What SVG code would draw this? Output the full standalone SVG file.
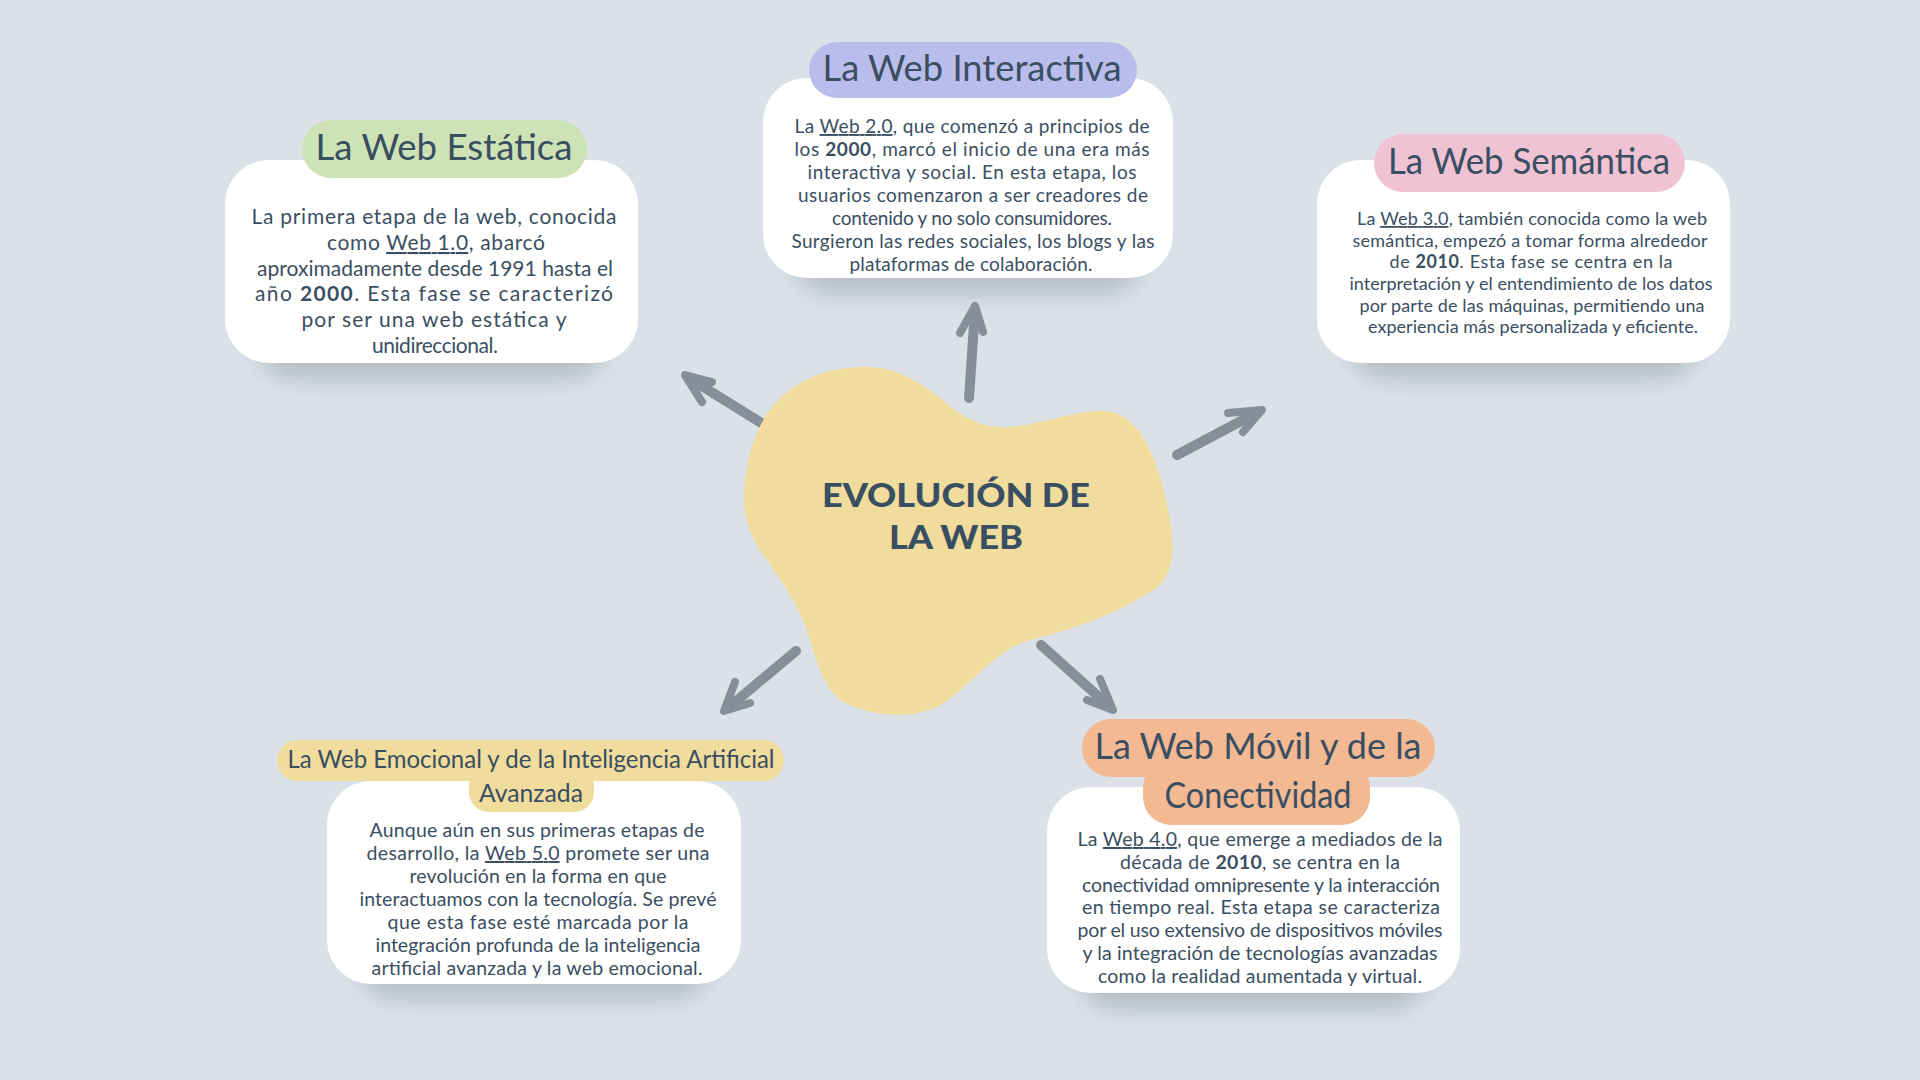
<svg xmlns="http://www.w3.org/2000/svg" width="1920" height="1080" viewBox="0 0 1920 1080">
<defs>
<style>
.bg{fill:#dce1e8}
.card{fill:#ffffff}
.shadow{fill:#9aa3ad;opacity:0.55}
.t{font-family:Lato,"Open Sans","Liberation Sans",sans-serif;fill:#3a4e62;text-anchor:middle}
.title{font-size:37px}
.b1{font-size:21px}
.b2{font-size:19px}
.b3{font-size:18px}
.b4{font-size:19.5px}
.u{text-decoration:underline}
.bold{font-weight:700}
.arrow{fill:none;stroke:#848f99;stroke-linecap:round;stroke-linejoin:round}
.shaft{stroke-width:10}
.head{stroke-width:8}
.center{font-family:Lato,"Open Sans","Liberation Sans",sans-serif;font-weight:900;font-size:33px;fill:#3a4e62;text-anchor:middle}
</style>
<filter id="blur" x="-20%" y="-30%" width="140%" height="170%">
<feGaussianBlur stdDeviation="11"/>
</filter>
</defs>
<rect class="bg" x="0" y="0" width="1920" height="1080"/>

<g id="connectors">
<path class="arrow shaft" d="M969,398 L975,310"/>
<path class="arrow head" d="M960,333 L975,306 L983,332"/>
<path class="arrow shaft" d="M763,424 L689,378"/>
<path class="arrow head" d="M712,382 L685,375 L702,402"/>
<path class="arrow shaft" d="M1177,455 L1258,412"/>
<path class="arrow head" d="M1228,413 L1262,410 L1243,432"/>
<path class="arrow shaft" d="M796,651 L728,708"/>
<path class="arrow head" d="M735,682 L724,711 L750,703"/>
<path class="arrow shaft" d="M1041,645 L1109,706"/>
<path class="arrow head" d="M1100,679 L1113,710 L1087,700"/>
</g>

<g id="center-node">
<path fill="#f0dc9c" d="M744,500 C744,455 760,410 790,390 C815,372 840,367 866,367 C900,367 925,385 955,410 C975,425 995,430 1020,426 C1050,421 1080,410 1105,411 C1140,413 1160,460 1170,520 C1176,555 1172,580 1150,592 C1110,617 1070,630 1030,640 C990,652 970,690 935,708 C915,717 880,718 850,705 C825,695 818,665 810,640 C800,605 780,580 760,550 C748,530 744,515 744,500 Z"/>
<text class="center" x="956" y="507" textLength="268" lengthAdjust="spacingAndGlyphs">EVOLUCIÓN DE</text>
<text class="center" x="956" y="549" textLength="134" lengthAdjust="spacingAndGlyphs">LA WEB</text>
</g>

<g id="node-estatica">
<rect class="shadow" x="255" y="185" width="353" height="195" rx="40" filter="url(#blur)"/>
<rect class="card" x="225" y="160" width="413" height="203" rx="44"/>
<rect fill="#cde3b5" x="302" y="120" width="285" height="58" rx="29"/>
<text class="t title" x="444" y="160" textLength="257" lengthAdjust="spacingAndGlyphs">La Web Estática</text>
<text class="t b1" x="434" y="224" textLength="365" lengthAdjust="spacing">La primera etapa de la web, conocida</text>
<text class="t b1" x="436" y="250" textLength="218" lengthAdjust="spacing">como <tspan class="u">Web 1.0</tspan>, abarcó</text>
<text class="t b1" x="435" y="276" textLength="356" lengthAdjust="spacing">aproximadamente desde 1991 hasta el</text>
<text class="t b1" x="434" y="301" textLength="358" lengthAdjust="spacing">año <tspan class="bold">2000</tspan>. Esta fase se caracterizó</text>
<text class="t b1" x="434" y="327" textLength="265" lengthAdjust="spacing">por ser una web estática y</text>
<text class="t b1" x="435" y="353" textLength="126" lengthAdjust="spacing">unidireccional.</text>
</g>

<g id="node-interactiva">
<rect class="shadow" x="793" y="100" width="350" height="195" rx="40" filter="url(#blur)"/>
<rect class="card" x="763" y="78" width="410" height="200" rx="44"/>
<rect fill="#b9bdec" x="809" y="42" width="328" height="56" rx="28"/>
<text class="t title" x="972" y="81" textLength="299" lengthAdjust="spacingAndGlyphs">La Web Interactiva</text>
<text class="t b2" x="972" y="133" textLength="355" lengthAdjust="spacing">La <tspan class="u">Web 2.0</tspan>, que comenzó a principios de</text>
<text class="t b2" x="972" y="156" textLength="355" lengthAdjust="spacing">los <tspan class="bold">2000</tspan>, marcó el inicio de una era más</text>
<text class="t b2" x="972" y="179" textLength="329" lengthAdjust="spacing">interactiva y social. En esta etapa, los</text>
<text class="t b2" x="973" y="202" textLength="350" lengthAdjust="spacing">usuarios comenzaron a ser creadores de</text>
<text class="t b2" x="972" y="225" textLength="280" lengthAdjust="spacing">contenido y no solo consumidores.</text>
<text class="t b2" x="973" y="248" textLength="363" lengthAdjust="spacing">Surgieron las redes sociales, los blogs y las</text>
<text class="t b2" x="971" y="271" textLength="243" lengthAdjust="spacing">plataformas de colaboración.</text>
</g>

<g id="node-semantica">
<rect class="shadow" x="1347" y="185" width="353" height="195" rx="40" filter="url(#blur)"/>
<rect class="card" x="1317" y="160" width="413" height="203" rx="44"/>
<rect fill="#efc3d3" x="1374" y="134" width="311" height="58" rx="29"/>
<text class="t title" x="1529" y="174" textLength="282" lengthAdjust="spacingAndGlyphs">La Web Semántica</text>
<text class="t b3" x="1532" y="225" textLength="350" lengthAdjust="spacing">La <tspan class="u">Web 3.0</tspan>, también conocida como la web</text>
<text class="t b3" x="1530" y="247" textLength="355" lengthAdjust="spacing">semántica, empezó a tomar forma alrededor</text>
<text class="t b3" x="1531" y="268" textLength="283" lengthAdjust="spacing">de <tspan class="bold">2010</tspan>. Esta fase se centra en la</text>
<text class="t b3" x="1531" y="290" textLength="363" lengthAdjust="spacing">interpretación y el entendimiento de los datos</text>
<text class="t b3" x="1532" y="312" textLength="345" lengthAdjust="spacing">por parte de las máquinas, permitiendo una</text>
<text class="t b3" x="1533" y="333" textLength="330" lengthAdjust="spacing">experiencia más personalizada y eficiente.</text>
</g>

<g id="node-emocional">
<rect class="shadow" x="357" y="805" width="354" height="195" rx="40" filter="url(#blur)"/>
<rect class="card" x="327" y="781" width="414" height="203" rx="44"/>
<rect fill="#f0dc9c" x="277" y="740" width="507" height="41" rx="20.5"/>
<rect fill="#f0dc9c" x="469" y="765" width="125" height="47" rx="20"/>
<text class="t" style="font-size:24.5px" x="531" y="768" textLength="487" lengthAdjust="spacingAndGlyphs">La Web Emocional y de la Inteligencia Artificial</text>
<text class="t" style="font-size:24.5px" x="531" y="802" textLength="104" lengthAdjust="spacingAndGlyphs">Avanzada</text>
<text class="t b4" x="537" y="837" textLength="335" lengthAdjust="spacing">Aunque aún en sus primeras etapas de</text>
<text class="t b4" x="538" y="860" textLength="343" lengthAdjust="spacing">desarrollo, la <tspan class="u">Web 5.0</tspan> promete ser una</text>
<text class="t b4" x="538" y="883" textLength="257" lengthAdjust="spacing">revolución en la forma en que</text>
<text class="t b4" x="538" y="906" textLength="357" lengthAdjust="spacing">interactuamos con la tecnología. Se prevé</text>
<text class="t b4" x="538" y="929" textLength="301" lengthAdjust="spacing">que esta fase esté marcada por la</text>
<text class="t b4" x="538" y="952" textLength="325" lengthAdjust="spacing">integración profunda de la inteligencia</text>
<text class="t b4" x="537" y="975" textLength="331" lengthAdjust="spacing">artificial avanzada y la web emocional.</text>
</g>

<g id="node-movil">
<rect class="shadow" x="1077" y="812" width="353" height="198" rx="40" filter="url(#blur)"/>
<rect class="card" x="1047" y="787" width="413" height="206" rx="44"/>
<rect fill="#f2b992" x="1082" y="719" width="353" height="58" rx="29"/>
<rect fill="#f2b992" x="1143" y="760" width="227" height="65" rx="28"/>
<text class="t title" x="1258" y="759" textLength="327" lengthAdjust="spacingAndGlyphs">La Web Móvil y de la</text>
<text class="t title" x="1258" y="808" textLength="187" lengthAdjust="spacingAndGlyphs">Conectividad</text>
<text class="t b4" x="1260" y="846" textLength="365" lengthAdjust="spacing">La <tspan class="u">Web 4.0</tspan>, que emerge a mediados de la</text>
<text class="t b4" x="1260" y="869" textLength="280" lengthAdjust="spacing">década de <tspan class="bold">2010</tspan>, se centra en la</text>
<text class="t b4" x="1261" y="892" textLength="358" lengthAdjust="spacing">conectividad omnipresente y la interacción</text>
<text class="t b4" x="1261" y="914" textLength="358" lengthAdjust="spacing">en tiempo real. Esta etapa se caracteriza</text>
<text class="t b4" x="1260" y="937" textLength="365" lengthAdjust="spacing">por el uso extensivo de dispositivos móviles</text>
<text class="t b4" x="1260" y="960" textLength="355" lengthAdjust="spacing">y la integración de tecnologías avanzadas</text>
<text class="t b4" x="1260" y="983" textLength="324" lengthAdjust="spacing">como la realidad aumentada y virtual.</text>
</g>
</svg>
